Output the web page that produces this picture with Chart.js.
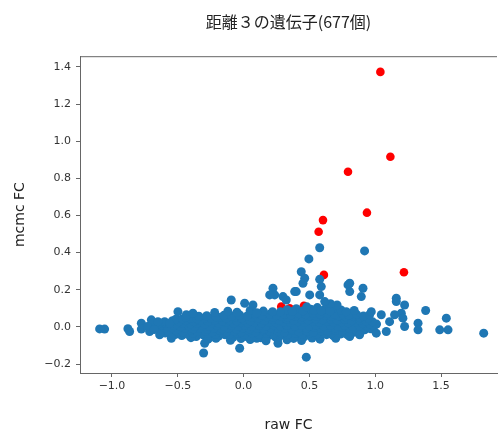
<!DOCTYPE html>
<html>
<head>
<meta charset="utf-8">
<script src="https://cdn.jsdelivr.net/npm/chart.js@4.4.1/dist/chart.umd.min.js"></script>
<style>
  body { margin: 0; background: #fff; }
  canvas { display: block; }
</style>
</head>
<body>
<canvas id="myChart" width="498" height="432"></canvas>
<script>

const titleText = '距離３の遺伝子(677個)';
const xLabel = 'raw FC';
const yLabel = 'mcmc FC';

const xTicks = [-1.0, -0.5, 0.0, 0.5, 1.0, 1.5];
const yTicks = [-0.2, 0.0, 0.2, 0.4, 0.6, 0.8, 1.0, 1.2, 1.4];

// genes in the main cloud, [raw FC, mcmc FC]
const coreLow = [
    [-0.52,-0.041],[-0.47,-0.047],[-0.41,-0.044],[-0.36,-0.052],[-0.30,-0.046],[-0.25,-0.055],[-0.19,-0.049],
    [-0.14,-0.043],[-0.08,-0.056],[-0.03,-0.048],[0.02,-0.052],[0.08,-0.045],[0.13,-0.058],[0.19,-0.047],
    [0.24,-0.053],[0.30,-0.044],[0.35,-0.056],[0.41,-0.049],[0.46,-0.054],[0.52,-0.046],[0.57,-0.051],
    [0.63,-0.042],[0.68,-0.047],[0.74,-0.038],[0.79,-0.043],
    [-0.27,-0.066],[-0.10,-0.072],[0.05,-0.068],[0.17,-0.075],[0.33,-0.070],[0.44,-0.074],[0.58,-0.066],[0.70,-0.061],
    [-0.40,-0.058],[-0.21,-0.061],[-0.02,-0.063],[0.10,-0.061],[0.26,-0.064],[0.38,-0.062],[0.52,-0.060],
    [-0.595,-0.033],[-0.545,-0.036],[-0.495,-0.031],[-0.435,-0.038],[-0.385,-0.034],[-0.325,-0.039],
    [-0.265,-0.035],[-0.215,-0.040],[-0.155,-0.034],[-0.105,-0.039],[-0.045,-0.036],[0.005,-0.041],
    [0.065,-0.035],[0.115,-0.040],[0.175,-0.034],[0.225,-0.039],[0.285,-0.036],[0.335,-0.041],
    [0.395,-0.035],[0.445,-0.040],[0.505,-0.034],[0.555,-0.039],[0.615,-0.033],[0.665,-0.037],
    [0.725,-0.031],[0.775,-0.035],[0.835,-0.029],[0.885,-0.032]
];

const coreMid = [
    [-0.62,-0.018],[-0.57,-0.024],[-0.51,-0.021],[-0.46,-0.027],[-0.40,-0.019],[-0.35,-0.025],[-0.29,-0.022],
    [-0.24,-0.028],[-0.18,-0.020],[-0.13,-0.026],[-0.07,-0.023],[-0.02,-0.029],[0.04,-0.021],[0.09,-0.027],
    [0.15,-0.019],[0.20,-0.025],[0.26,-0.022],[0.31,-0.028],[0.37,-0.020],[0.42,-0.026],[0.48,-0.023],
    [0.53,-0.029],[0.59,-0.021],[0.64,-0.025],[0.70,-0.019],[0.75,-0.024],[0.81,-0.018],[0.86,-0.022],[0.92,-0.016],
    [-0.655,-0.006],[-0.605,-0.009],[-0.545,-0.005],[-0.495,-0.010],[-0.445,-0.006],[-0.385,-0.011],
    [-0.335,-0.007],[-0.275,-0.012],[-0.225,-0.006],[-0.165,-0.011],[-0.115,-0.008],[-0.055,-0.012],
    [-0.005,-0.007],[0.045,-0.011],[0.105,-0.006],[0.155,-0.010],[0.205,-0.005],[0.265,-0.009],
    [0.315,-0.006],[0.365,-0.010],[0.425,-0.005],[0.475,-0.009],[0.535,-0.004],[0.585,-0.008],
    [0.645,-0.003],[0.695,-0.007],[0.745,-0.004],[0.805,-0.008],[0.855,-0.003],[0.915,-0.006],[0.965,-0.010],
    [-0.68,0.004],[-0.63,0.009],[-0.58,0.002],[-0.53,0.007],[-0.48,0.001],[-0.42,0.006],[-0.37,0.003],
    [-0.31,0.008],[-0.26,0.002],[-0.20,0.007],[-0.15,0.004],[-0.09,0.009],[-0.04,0.003],[0.01,0.008],
    [0.06,0.002],[0.12,0.007],[0.17,0.005],[0.23,0.010],[0.28,0.004],[0.33,0.009],[0.39,0.003],[0.44,0.008],
    [0.50,0.005],[0.55,0.010],[0.61,0.004],[0.66,0.008],[0.72,0.003],[0.77,0.007],[0.83,0.002],[0.88,0.006],
    [0.94,0.001],[0.99,0.004],
    [-0.645,0.016],[-0.595,0.019],[-0.515,0.015],[-0.465,0.020],[-0.405,0.017],[-0.355,0.021],
    [-0.295,0.016],[-0.245,0.022],[-0.185,0.018],[-0.135,0.023],[-0.075,0.019],[-0.025,0.024],
    [0.035,0.020],[0.085,0.025],[0.135,0.021],[0.195,0.026],[0.245,0.022],[0.305,0.027],[0.355,0.023],
    [0.415,0.028],[0.465,0.024],[0.525,0.029],[0.575,0.025],[0.635,0.029],[0.685,0.024],[0.745,0.027],
    [0.795,0.022],[0.855,0.025],[0.905,0.019],[0.955,0.017],[1.01,0.015]
];

const coreHigh = [
    [-0.60,0.028],[-0.54,0.033],[-0.49,0.027],[-0.44,0.034],[-0.38,0.029],[-0.33,0.035],[-0.27,0.030],
    [-0.22,0.036],[-0.16,0.031],[-0.11,0.037],[-0.05,0.032],[0.00,0.038],[0.05,0.033],[0.11,0.039],
    [0.16,0.034],[0.22,0.040],[0.27,0.035],[0.33,0.041],[0.38,0.036],[0.44,0.042],[0.49,0.037],[0.55,0.043],
    [0.60,0.038],[0.66,0.042],[0.71,0.036],[0.77,0.040],[0.82,0.034],[0.88,0.037],[0.93,0.031],[0.98,0.027],
    [-0.515,0.041],[-0.465,0.044],[-0.405,0.046],[-0.355,0.043],[-0.295,0.048],[-0.245,0.045],
    [-0.185,0.050],[-0.135,0.047],[-0.065,0.051],[-0.015,0.048],[0.065,0.053],[0.115,0.049],[0.175,0.054],
    [0.225,0.051],[0.285,0.056],[0.335,0.053],[0.395,0.058],[0.445,0.054],[0.505,0.059],[0.555,0.056],
    [0.615,0.061],[0.665,0.057],[0.725,0.059],[0.775,0.054],[0.835,0.055],[0.885,0.049],[0.945,0.046],
    [-0.44,0.052],[-0.34,0.057],[-0.28,0.060],[-0.21,0.055],[-0.15,0.062],[-0.09,0.058],[-0.03,0.064],
    [0.03,0.060],[0.09,0.066],[0.14,0.061],[0.20,0.068],[0.25,0.063],[0.31,0.069],[0.36,0.064],[0.42,0.071],
    [0.47,0.066],[0.53,0.072],[0.58,0.067],[0.64,0.073],[0.69,0.068],[0.75,0.070],[0.80,0.064],[0.86,0.066],
    [0.91,0.058],
    [-0.22,0.078],[-0.12,0.084],[0.05,0.088],[0.15,0.085],[0.33,0.092],[0.40,0.098],[0.51,0.095],
    [0.56,0.104],[0.62,0.097],[0.69,0.102],[0.74,0.091],[0.84,0.088],
    [0.28,0.081],[0.37,0.083],[0.45,0.086],[0.48,0.108],[0.535,0.089],[0.59,0.087],[0.655,0.085],
    [0.71,0.118],[0.78,0.082],[0.66,0.125],[-0.05,0.079],[0.10,0.076],[0.22,0.082]
];

// scattered genes around the cloud
const spread = [
    [-1.094,-0.011],[-1.056,-0.012],[-0.879,-0.010],[-0.866,-0.025],[-0.777,0.020],[-0.777,-0.012],
    [-0.701,0.038],[-0.651,0.028],[-0.714,-0.025],[-0.638,-0.043],[-0.562,0.020],[-0.549,-0.061],
    [-0.73,0.002],[-0.68,-0.014],[-0.499,0.082],[-0.435,0.065],[-0.385,0.074],[-0.296,-0.088],[-0.304,-0.141],
    [-0.094,0.145],[0.008,0.127],[0.071,0.118],[-0.03,-0.115],[0.261,-0.088],[0.476,-0.163],
    [0.223,0.208],[0.236,0.172],[0.198,0.172],[0.299,0.163],[0.324,0.145],[0.388,0.19],[0.40,0.19],
    [0.438,0.297],[0.464,0.262],[0.451,0.235],[0.496,0.366],[0.578,0.426],[0.919,0.409],
    [0.578,0.256],[0.59,0.217],[0.502,0.172],[0.578,0.172],[0.616,0.136],
    [0.793,0.226],[0.806,0.19],[0.907,0.208],[0.894,0.163],[0.806,0.235],
    [1.16,0.154],[1.16,0.136],[1.223,0.118],[1.198,0.074],[1.147,0.065],[1.223,0.002],
    [1.325,0.02],[1.325,-0.016],[1.383,0.088],[1.54,0.047],[1.49,-0.016],[1.553,-0.016],[1.824,-0.034],
    [0.957,0.065],[1.046,0.065],[1.109,0.028],[1.084,-0.025],[1.008,-0.034],[0.881,-0.043],[0.806,-0.052],
    [0.97,0.082],[1.21,0.047]
];

// highlighted genes (red)
const highlighted = [
    [1.039,1.373],[1.115,0.916],[0.793,0.835],[0.937,0.615],[0.603,0.575],[0.57,0.512],
    [0.61,0.28],[1.218,0.294],[0.286,0.109],[0.35,0.1],[0.458,0.113]
];

const toPoints = (arr) => arr.map(([x, y]) => ({ x, y }));
const fmt = (v) => Number(v).toFixed(1).replace('-', '\u2212');

const topSpine = {
    id: 'topSpine',
    afterDraw(chart) {
        const { ctx, chartArea } = chart;
        ctx.save();
        ctx.strokeStyle = '#666';
        ctx.lineWidth = 1;
        ctx.beginPath();
        ctx.moveTo(chartArea.left, chartArea.top + 0.5);
        ctx.lineTo(chartArea.right, chartArea.top + 0.5);
        ctx.stroke();
        ctx.restore();
    }
};

const tickFont = { family: 'DejaVu Sans', size: 11 };
const labelFont = { family: 'DejaVu Sans', size: 14, lineHeight: 1 };

const config = {
    type: 'scatter',
    data: {
        datasets: [
            {
                label: 'other',
                data: toPoints([...coreLow, ...coreMid, ...coreHigh, ...spread]),
                backgroundColor: '#1f77b4',
                borderWidth: 0,
                pointRadius: 4.5
            },
            {
                label: 'highlighted',
                data: toPoints(highlighted),
                backgroundColor: '#ff0000',
                borderWidth: 0,
                pointRadius: 4.3
            }
        ]
    },
    options: {
        responsive: false,
        animation: false,
        devicePixelRatio: 1,
        layout: { autoPadding: false, padding: { top: 1, right: 1, left: 0, bottom: 0 } },
        plugins: {
            legend: { display: false },
            tooltip: { enabled: false },
            title: {
                display: true,
                text: titleText,
                fullSize: false,
                color: '#222',
                font: { family: 'Noto Sans CJK JP', size: 16, weight: 'normal' },
                padding: { top: 11, bottom: 25 }
            }
        },
        scales: {
            x: {
                type: 'linear',
                min: -1.243,
                max: 1.925,
                afterBuildTicks: (s) => { s.ticks = xTicks.map((v) => ({ value: v })); },
                afterFit: (s) => { s.height = 59; s.paddingLeft = 0; s.paddingRight = 0; },
                ticks: { callback: fmt, font: tickFont, color: '#333', padding: 3, maxRotation: 0, autoSkip: false },
                grid: { drawOnChartArea: false, drawTicks: true, tickLength: 4, color: '#666' },
                border: { display: true, color: '#666', width: 1 },
                title: { display: true, text: xLabel, color: '#222', font: labelFont, padding: { top: 0, bottom: 0 } }
            },
            y: {
                type: 'linear',
                min: -0.2484,
                max: 1.4576,
                afterBuildTicks: (s) => { s.ticks = yTicks.map((v) => ({ value: v })); },
                afterFit: (s) => { s.width = 80; s.paddingTop = 0; s.paddingBottom = 0; },
                ticks: { callback: fmt, font: tickFont, color: '#333', padding: 5, autoSkip: false },
                grid: { drawOnChartArea: false, drawTicks: true, tickLength: 4, color: '#666' },
                border: { display: true, color: '#666', width: 1 },
                title: { display: true, text: yLabel, color: '#222', font: labelFont, padding: { top: 13, bottom: 0 } }
            }
        }
    },
    plugins: [topSpine]
};

window.onload = () => {
    new Chart(document.getElementById('myChart'), config);
};
</script>
</body>
</html>
